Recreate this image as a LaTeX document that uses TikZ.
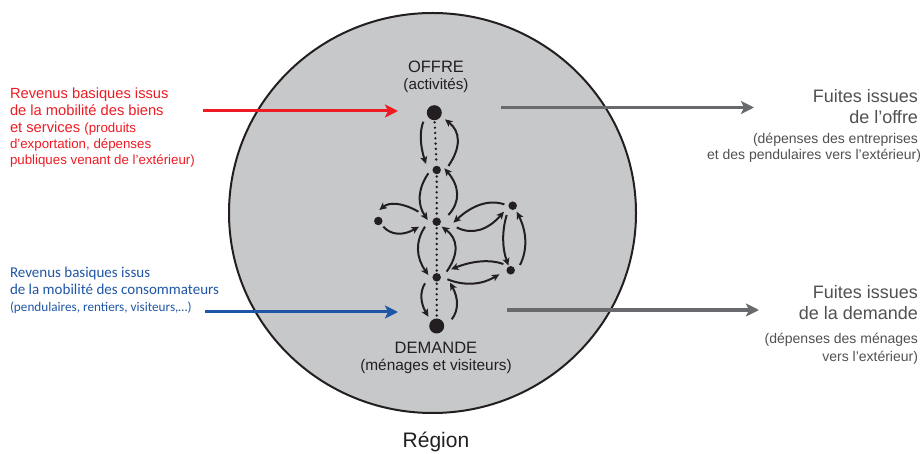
\documentclass[tikz,border=0pt]{standalone}
\usepackage{fontspec}
\setmainfont{Liberation Sans}
\newfontfamily\calib{Carlito}
\usetikzlibrary{arrows.meta,calc}
\definecolor{myred}{RGB}{237,28,36}
\definecolor{myblue}{RGB}{31,86,165}
\definecolor{arrgray}{RGB}{105,106,109}
\definecolor{txtgray}{RGB}{80,81,83}
\definecolor{circfill}{RGB}{199,200,202}
\definecolor{ink}{RGB}{35,31,32}
\begin{document}
\begin{tikzpicture}[x=1pt,y=1pt,
  bignode/.style={circle,fill=ink,inner sep=0pt,minimum size=15pt},
  dotnode/.style={circle,fill=ink,inner sep=0pt,minimum size=8.5pt},
  flow/.style={line width=2pt,draw=ink,-{Stealth[length=7.5pt,width=7pt,inset=1.8pt]}},
  dotline/.style={line width=2.7pt,draw=ink,dash pattern=on 0pt off 5.3pt,line cap=round},
  bigarr/.style={line width=3pt,-{Stealth[length=13pt,width=13pt,inset=3pt]}},
  lbl/.style={inner sep=0pt,outer sep=0pt},
]
\useasboundingbox (0,0) rectangle (924,453);
\fill[white] (0,0) rectangle (924,453);
% region circle
\draw[fill=circfill,draw=ink,line width=2pt] (432.5,240) ellipse [x radius=203.5, y radius=200];

% nodes
\node[bignode] (T) at (434.3,340.3) {};
\node[dotnode] (N2) at (436.7,283) {};
\node[dotnode] (C) at (436.7,231.3) {};
\node[dotnode] (N4) at (436.7,175.7) {};
\node[bignode] (B) at (436.7,127) {};
\node[dotnode] (L) at (378.3,232) {};
\node[dotnode] (RU) at (512.7,247.3) {};
\node[dotnode] (RL) at (510.7,182.7) {};

% dotted spine
\draw[dotline,shorten <=2pt,shorten >=2pt] (T) -- (N2);
\draw[dotline,shorten <=2pt,shorten >=2pt] (N2) -- (C);
\draw[dotline,shorten <=2pt,shorten >=2pt] (C) -- (N4);
\draw[dotline,shorten <=2pt,shorten >=2pt] (N4) -- (B);

% curved flows
\draw[flow] ($(T)+(-11,-9)$) .. controls ($(T)+(-15,-19.3)$) and ($(N2)+(-16.4,23.9)$) .. ($(N2)+(-10.7,6)$);
\draw[flow] ($(N2)+(11.7,4)$) .. controls ($(N2)+(24.8,23.1)$) and ($(T)+(26,-18.7)$) .. ($(T)+(10.7,-6.7)$);
\draw[flow] ($(N2)+(-8.3,-3.3)$) .. controls ($(N2)+(-19.2,-18.9)$) and ($(C)+(-19.4,17.2)$) .. ($(C)+(-9,1.7)$);
\draw[flow] ($(C)+(11.7,6.7)$) .. controls ($(C)+(24.1,20)$) and ($(N2)+(22.8,-16.1)$) .. ($(N2)+(7.7,1.7)$);
\draw[flow] ($(C)+(-11.7,-5)$) .. controls ($(C)+(-21.7,-20)$) and ($(N4)+(-20.6,19.6)$) .. ($(N4)+(-8.3,2.3)$);
\draw[flow] ($(N4)+(10,5.7)$) .. controls ($(N4)+(22.8,24)$) and ($(C)+(21.1,-16.7)$) .. ($(C)+(5,-5)$);
\draw[flow] ($(N4)+(-11.7,-6)$) .. controls ($(N4)+(-17.2,-14.9)$) and ($(B)+(-16.1,22.7)$) .. ($(B)+(-8.3,9.3)$);
\draw[flow] ($(B)+(15,6.7)$) .. controls ($(B)+(22.2,15.8)$) and ($(N4)+(21.7,-20.7)$) .. ($(N4)+(13.3,-5.3)$);
\draw[flow] ($(C)+(-18.3,10)$) .. controls ($(C)+(-34.2,19.2)$) and ($(L)+(11.1,19.1)$) .. ($(L)+(1,11)$);
\draw[flow] ($(L)+(5,-5.7)$) .. controls ($(L)+(13.1,-14.6)$) and ($(C)+(-33.3,-13.9)$) .. ($(C)+(-17.7,-5)$);
\draw[flow] ($(RU)+(-8.3,1.3)$) .. controls ($(RU)+(-23.8,6.6)$) and ($(C)+(35.2,16.4)$) .. ($(C)+(16.7,-1)$);
\draw[flow] ($(C)+(20,-5.7)$) .. controls ($(C)+(35.3,-13.6)$) and ($(RU)+(-24.9,-24.3)$) .. ($(RU)+(-8.7,-6)$);
\draw[flow] ($(RU)+(-6,-9.3)$) .. controls ($(RU)+(-11,-25.8)$) and ($(RL)+(-8.4,22)$) .. ($(RL)+(-2.3,4.7)$);
\draw[flow] ($(RL)+(9.3,5.3)$) .. controls ($(RL)+(17.1,20.9)$) and ($(RU)+(14,-26)$) .. ($(RU)+(4,-6)$);
\draw[flow] ($(RL)+(-7.3,6.3)$) .. controls ($(RL)+(-21,11.2)$) and ($(N4)+(35.6,16.4)$) .. ($(N4)+(14.3,8)$);
\draw[flow] ($(N4)+(10.7,-2)$) .. controls ($(N4)+(28,-9)$) and ($(RL)+(-28.7,-14.3)$) .. ($(RL)+(-11.3,-4)$);

% big arrows
\coordinate (redS) at (203,342);
\coordinate (redE) at (398,342);
\coordinate (bluS) at (205,141);
\coordinate (bluE) at (398,141);
\coordinate (gtS) at (501,345.5);
\coordinate (gtE) at (754,345.5);
\coordinate (gbS) at (507,143);
\coordinate (gbE) at (759,143);
\draw[bigarr,draw=myred,fill=myred] (redS) -- (redE);
\draw[bigarr,draw=myblue,fill=myblue] (bluS) -- (bluE);
\draw[bigarr,draw=arrgray,fill=arrgray,line width=3.6pt] (gtS) -- (gtE);
\draw[bigarr,draw=arrgray,fill=arrgray,line width=3.6pt] (gbS) -- (gbE);

% center labels
\node[lbl,anchor=base,text=ink,font=\fontsize{16.5}{18}\selectfont] (offre) at (436,380.7) {OFFRE};
\node[lbl,anchor=base,text=ink,font=\fontsize{15.2}{17}\selectfont] (act) at (436,363) {(activités)};
\node[lbl,anchor=base,text=ink,font=\fontsize{16.5}{18}\selectfont] (dem) at (436,99.7) {DEMANDE};
\node[lbl,anchor=base,text=ink,font=\fontsize{15.4}{17}\selectfont] (men) at (436,83) {(ménages et visiteurs)};
\node[lbl,anchor=base,text=ink,font=\fontsize{21}{24}\selectfont] (reg) at (436,6) {Région};

% red text
\node[lbl,anchor=base west,text=myred,font=\fontsize{14.7}{17}\selectfont] (r1) at (10,354.7) {Revenus basiques issus};
\node[lbl,anchor=base west,text=myred,font=\fontsize{14.7}{17}\selectfont] (r2) at (10,337.3) {de la mobilité des biens};
\node[lbl,anchor=base west,text=myred,font=\fontsize{14.7}{17}\selectfont] (r3) at (10,320.7) {et services {\fontsize{13.3}{15}\selectfont (produits}};
\node[lbl,anchor=base west,text=myred,font=\fontsize{13.3}{15}\selectfont] (r4) at (10,304) {d’exportation, dépenses};
\node[lbl,anchor=base west,text=myred,font=\fontsize{13.3}{15}\selectfont] (r5) at (10,288) {publiques venant de l’extérieur)};

% blue text
\node[lbl,anchor=base west,text=myblue,font=\calib\fontsize{15}{17}\selectfont] (b1) at (10,175.5) {Revenus basiques issus};
\node[lbl,anchor=base west,text=myblue,font=\calib\fontsize{15}{17}\selectfont] (b2) at (10,158.7) {de la mobilité des consommateurs};
\node[lbl,anchor=base west,text=myblue,font=\calib\fontsize{13.2}{15}\selectfont] (b3) at (10,142) {(pendulaires, rentiers, visiteurs,…)};

% right top text
\node[lbl,anchor=base east,text=txtgray,font=\fontsize{18}{20}\selectfont] (o1) at (918,350.5) {Fuites issues};
\node[lbl,anchor=base east,text=txtgray,font=\fontsize{18}{20}\selectfont] (o2) at (918,329.7) {de l’offre};
\node[lbl,anchor=base east,text=txtgray,font=\fontsize{14}{16}\selectfont] (o3) at (918,309.5) {(dépenses des entreprises};
\node[lbl,anchor=base east,text=txtgray,font=\fontsize{14}{16}\selectfont] (o4) at (921,293) {et des pendulaires vers l’extérieur)};

% right bottom text
\node[lbl,anchor=base east,text=txtgray,font=\fontsize{18}{20}\selectfont] (d1) at (918,154.7) {Fuites issues};
\node[lbl,anchor=base east,text=txtgray,font=\fontsize{18}{20}\selectfont] (d2) at (918,133) {de la demande};
\node[lbl,anchor=base east,text=txtgray,font=\fontsize{14}{16}\selectfont] (d3) at (918,110) {(dépenses des ménages};
\node[lbl,anchor=base east,text=txtgray,font=\fontsize{14}{16}\selectfont] (d4) at (918,91.5) {vers l’extérieur)};
\end{tikzpicture}
\end{document}
